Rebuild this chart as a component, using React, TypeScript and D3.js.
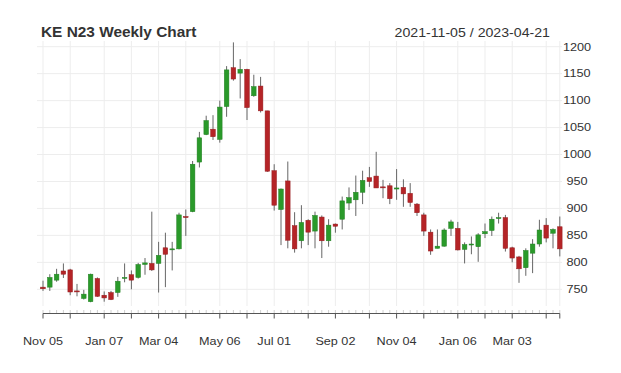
import React, { useEffect, useRef } from 'react';
import * as d3 from 'd3';

// weekly KE N23 bars, 2021-11-05 .. 2023-04-21
const opens = [754, 754, 767, 784, 786, 747, 733, 727, 770, 739, 744, 744, 771, 777, 772, 796, 798, 798, 827, 824,
  825, 885, 894, 986, 1037, 1047, 1028, 1089, 1161, 1151, 1158, 1109, 1127, 1081, 970, 898, 951, 868, 840, 878,
  858, 884, 840, 871, 880, 910, 916, 930, 957, 960, 940, 942, 936, 939, 928, 908, 888, 856, 826, 830,
  863, 863, 824, 833, 829, 853, 859, 882, 883, 827, 810, 790, 817, 834, 869, 854, 866];
const highs = [766, 778, 788, 798, 788, 760, 749, 779, 772, 746, 747, 773, 798, 785, 799, 808, 894, 838, 855, 838,
  892, 898, 988, 1042, 1072, 1073, 1100, 1164, 1208, 1177, 1159, 1148, 1144, 1081, 982, 937, 987, 893, 906, 880,
  894, 887, 880, 872, 922, 939, 961, 970, 977, 1005, 953, 947, 973, 954, 947, 910, 892, 861, 861, 863,
  879, 875, 837, 848, 854, 872, 885, 892, 888, 829, 812, 826, 843, 879, 882, 863, 885];
const lows = [747, 747, 764, 771, 739, 737, 731, 726, 736, 727, 730, 736, 763, 750, 770, 777, 784, 744, 754, 785,
  824, 849, 893, 976, 1036, 1027, 1022, 1070, 1137, 1104, 1064, 1107, 1078, 968, 896, 832, 826, 818, 826, 832,
  826, 808, 829, 855, 861, 897, 886, 908, 940, 938, 919, 908, 916, 903, 903, 886, 849, 814, 826, 829,
  849, 822, 798, 815, 801, 845, 849, 872, 820, 800, 762, 775, 780, 829, 837, 826, 811];
const closes = [751, 772, 778, 778, 745, 746, 741, 778, 737, 734, 731, 765, 772, 767, 796, 799, 786, 813, 815, 825,
  888, 883, 982, 1031, 1063, 1033, 1088, 1157, 1140, 1158, 1087, 1126, 1081, 969, 906, 936, 841, 825, 874, 856,
  887, 840, 869, 867, 914, 920, 930, 952, 950, 938, 939, 918, 938, 927, 911, 892, 858, 821, 830, 860,
  875, 823, 833, 834, 851, 857, 880, 883, 826, 808, 788, 822, 834, 860, 845, 861, 825];

const startDate = new Date(2021, 10, 5);
const endDate = new Date(2023, 3, 22);
const weeks = d3.timeFriday.range(startDate, endDate);

const tickLabels = ['Nov 05', 'Jan 07', 'Mar 04', 'May 06', 'Jul 01', 'Sep 02', 'Nov 04', 'Jan 06', 'Mar 03'];
const yTicks = [750, 800, 850, 900, 950, 1000, 1050, 1100, 1150, 1200];

const title = 'KE N23 Weekly Chart';
const rangeText = '2021-11-05 / 2023-04-21';

const W = 621;
const H = 373;
const FONT = '"Liberation Sans", Arial, Helvetica, sans-serif';

export default function App() {
  const ref = useRef<SVGSVGElement>(null);

  useEffect(() => {
    const svg = d3.select(ref.current);
    svg.selectAll('*').remove();

    const n = opens.length;
    const x = d3.scalePoint<number>()
      .domain(d3.range(n))
      .range([43, 559.8]);
    const y = d3.scaleLinear().domain([750, 1200]).range([289.3, 46.7]);

    const fmt = d3.timeFormat('%b %d');
    // first week of every month gets a major tick + grid line
    const monthIdx = d3.range(n)
      .filter((i) => i === 0 || weeks[i].getMonth() !== weeks[i - 1].getMonth());
    const majorIdx = monthIdx.concat([n - 1]);

    const g = svg.append('g');

    // grid
    g.selectAll('line.hgrid')
      .data(yTicks)
      .enter()
      .append('line')
      .attr('x1', 37).attr('x2', 562)
      .attr('y1', (d) => y(d)).attr('y2', (d) => y(d))
      .attr('stroke', '#ededed')
      .attr('stroke-width', 1);

    g.selectAll('line.vgrid')
      .data(majorIdx)
      .enter()
      .append('line')
      .attr('x1', (i) => x(i)!).attr('x2', (i) => x(i)!)
      .attr('y1', 41).attr('y2', 306)
      .attr('stroke', '#ededed')
      .attr('stroke-width', 1);

    // x axis
    const axisY = 313.5;
    g.selectAll('line.minor')
      .data(d3.range(n))
      .enter()
      .append('line')
      .attr('x1', (i) => x(i)!).attr('x2', (i) => x(i)!)
      .attr('y1', axisY - 3.5).attr('y2', axisY)
      .attr('stroke', '#d0d0d0');

    g.append('line')
      .attr('x1', x(0)!).attr('x2', x(n - 1)!)
      .attr('y1', axisY).attr('y2', axisY)
      .attr('stroke', '#555')
      .attr('stroke-width', 1);

    g.selectAll('line.major')
      .data(majorIdx)
      .enter()
      .append('line')
      .attr('x1', (i) => x(i)!).attr('x2', (i) => x(i)!)
      .attr('y1', axisY).attr('y2', axisY + 5)
      .attr('stroke', '#555');

    const labelIdx = monthIdx.filter((i) => tickLabels.includes(fmt(weeks[i])));
    g.selectAll('text.xlab')
      .data(labelIdx)
      .enter()
      .append('text')
      .attr('transform', (i) => `translate(${x(i)},344.5) scale(1.17,1)`)
      .attr('text-anchor', 'middle')
      .attr('font-family', FONT)
      .attr('font-size', 10.8)
      .attr('fill', '#333')
      .text((i) => fmt(weeks[i]));

    // y labels on the right
    g.selectAll('text.ylab')
      .data(yTicks)
      .enter()
      .append('text')
      .attr('transform', (d) => `translate(577,${y(d) + 3.8}) scale(1.2,1)`)
      .attr('text-anchor', 'middle')
      .attr('font-family', FONT)
      .attr('font-size', 10.6)
      .attr('fill', '#333')
      .text((d) => d);

    // candles
    const bars = d3.range(n).map((i) => ({
      i, o: opens[i], h: highs[i], l: lows[i], c: closes[i],
    }));
    const up = '#2a9a2a';
    const down = '#b52427';
    const bw = 4.6;

    g.selectAll('line.wick')
      .data(bars)
      .enter()
      .append('line')
      .attr('x1', (d) => x(d.i)!).attr('x2', (d) => x(d.i)!)
      .attr('y1', (d) => y(d.h)).attr('y2', (d) => y(d.l))
      .attr('stroke', '#666')
      .attr('stroke-width', 1);

    g.selectAll('rect.body')
      .data(bars)
      .enter()
      .append('rect')
      .attr('x', (d) => x(d.i)! - bw / 2)
      .attr('width', bw)
      .attr('y', (d) => y(Math.max(d.o, d.c)))
      .attr('height', (d) => Math.max(1, Math.abs(y(d.o) - y(d.c))))
      .attr('fill', (d) => (d.c >= d.o ? up : down))
      .attr('stroke', (d) => (d.c >= d.o ? '#237f23' : '#951c1f'))
      .attr('stroke-width', 0.5);

    // header
    g.append('text')
      .attr('transform', 'translate(41,37) scale(1.1,1)')
      .attr('font-family', FONT)
      .attr('font-size', 14)
      .attr('font-weight', 'bold')
      .attr('fill', '#333')
      .text(title);

    g.append('text')
      .attr('transform', 'translate(550,37) scale(1.18,1)')
      .attr('text-anchor', 'end')
      .attr('font-family', FONT)
      .attr('font-size', 12)
      .attr('fill', '#333')
      .text(rangeText);
  }, []);

  return (
    <svg
      ref={ref}
      width={W}
      height={H}
      style={{ position: 'absolute', left: 0, top: 0, background: '#fff' }}
    />
  );
}
